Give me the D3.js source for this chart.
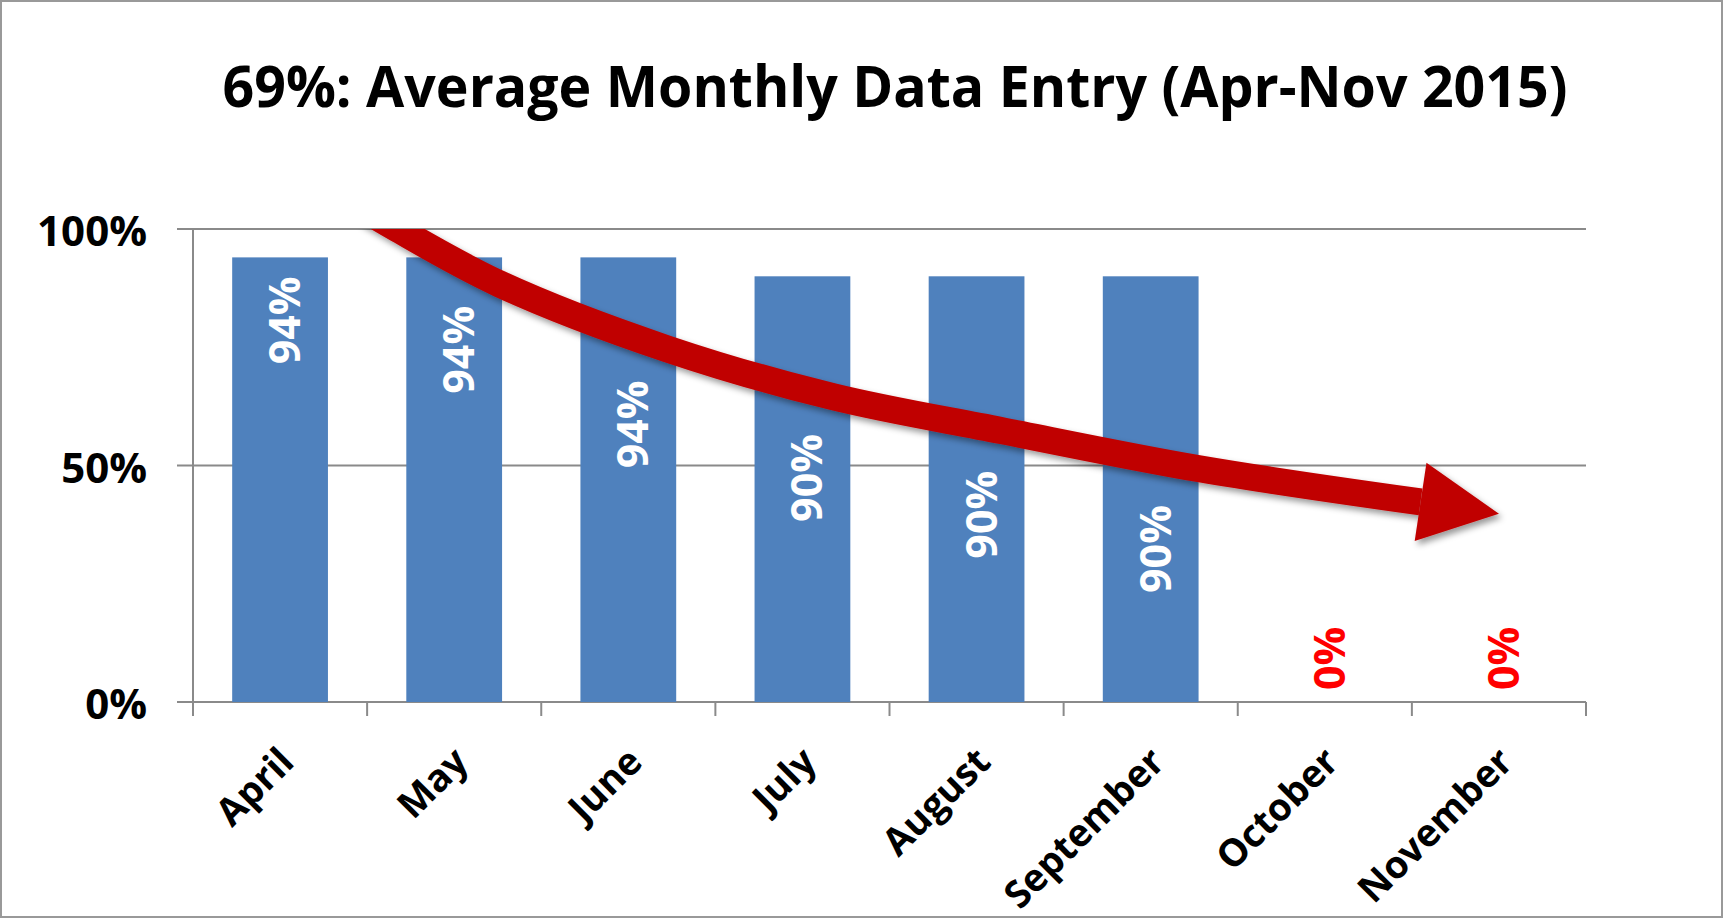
<!DOCTYPE html>
<html>
<head>
<meta charset="utf-8">
<title>Average Monthly Data Entry</title>
<script src="https://cdn.jsdelivr.net/npm/d3@7"></script>
<style>
  body { margin: 0; background: #fff; }
  svg text { font-family: 'Open Sans', 'Noto Sans', sans-serif; font-weight: 700; }
</style>
</head>
<body>
<svg id="chart"></svg>
<script>
// data
const months = ['April', 'May', 'June', 'July', 'August', 'September', 'October', 'November'];
const entryPct = [94, 94, 94, 90, 90, 90, 0, 0];
const yTickValues = [0, 50, 100];
const chartTitle = '69%: Average Monthly Data Entry (Apr-Nov 2015)';

// the hand drawn trend arrow, in data units: [month position (0 = left edge), percent]
const arrowPoints = [[0.99, 104], [1.16, 100.3], [1.76, 88.4], [2.72, 74.7], [3.68, 64.5], [4.64, 57.4], [5.78, 49.3], [7.05, 42.3]];
const arrowTip = [7.50, 39.8];

class BarChart {

    constructor(_config, _data) {
        this.config = {
            parentElement: _config.parentElement,
            containerWidth: _config.containerWidth || 1723,
            containerHeight: _config.containerHeight || 918,
            margin: {top: 229, right: 137, bottom: 216, left: 193}
        }
        this.data = _data;
        this.initVis();
    }

    initVis() {
        let vis = this;

        vis.width = vis.config.containerWidth - vis.config.margin.left - vis.config.margin.right;
        vis.height = vis.config.containerHeight - vis.config.margin.top - vis.config.margin.bottom;

        vis.svg = d3.select(vis.config.parentElement)
            .attr('width', vis.config.containerWidth)
            .attr('height', vis.config.containerHeight);

        // outer frame of the chart area
        vis.svg.append('rect')
            .attr('x', 1).attr('y', 1)
            .attr('width', vis.config.containerWidth - 2)
            .attr('height', vis.config.containerHeight - 2)
            .attr('fill', '#fff')
            .attr('stroke', '#999')
            .attr('stroke-width', 2);

        // drop shadow for the arrow
        let defs = vis.svg.append('defs');
        let f = defs.append('filter')
            .attr('id', 'shadow')
            .attr('x', '-10%').attr('y', '-10%')
            .attr('width', '120%').attr('height', '130%');
        f.append('feDropShadow')
            .attr('dx', 3).attr('dy', 4)
            .attr('stdDeviation', 3)
            .attr('flood-color', '#000')
            .attr('flood-opacity', 0.4);

        defs.append('clipPath')
            .attr('id', 'plot-clip')
            .append('rect')
            .attr('x', -50).attr('y', 0)
            .attr('width', vis.width + 100)
            .attr('height', vis.height + 50);

        // calibri is narrower than open sans, so the title gets pinned to its width
        vis.title = vis.svg.append('text')
            .attr('x', 895)
            .attr('y', 107)
            .attr('text-anchor', 'middle')
            .attr('textLength', 1345)
            .attr('lengthAdjust', 'spacingAndGlyphs')
            .style('font-size', '58px')
            .attr('fill', '#000')
            .text(chartTitle);

        vis.chart = vis.svg.append('g')
            .attr('transform', `translate(${vis.config.margin.left}, ${vis.config.margin.top})`);

        vis.xScale = d3.scaleBand()
            .domain(vis.data.map(d => d.month))
            .range([0, vis.width])
            .paddingInner(0.45)
            .paddingOuter(0.225);

        // continuous version of the month axis, for the arrow and boundary ticks
        vis.posScale = d3.scaleLinear()
            .domain([0, vis.data.length])
            .range([0, vis.width]);

        vis.yScale = d3.scaleLinear()
            .domain([0, 100])
            .range([vis.height, 0]);

        vis.gridG = vis.chart.append('g').attr('class', 'grid');
        vis.axisG = vis.chart.append('g').attr('class', 'axes');
        vis.barG = vis.chart.append('g').attr('class', 'bars');
        vis.labelG = vis.chart.append('g').attr('class', 'labels');
        vis.arrowG = vis.chart.append('g')
            .attr('clip-path', 'url(#plot-clip)')
            .append('g')
            .attr('filter', 'url(#shadow)');

        vis.renderVis();
    }

    renderVis() {
        let vis = this;
        const axisColor = '#8a8a8a';

        // horizontal gridlines, running a bit left of the axis as ticks
        vis.gridG.selectAll('line')
            .data(yTickValues)
            .join('line')
            .attr('x1', -16)
            .attr('x2', vis.width)
            .attr('y1', d => vis.yScale(d))
            .attr('y2', d => vis.yScale(d))
            .attr('stroke', axisColor)
            .attr('stroke-width', 2);

        // y axis line
        vis.axisG.append('line')
            .attr('x1', 0).attr('x2', 0)
            .attr('y1', vis.yScale(100)).attr('y2', vis.height)
            .attr('stroke', axisColor)
            .attr('stroke-width', 2);

        // category boundary ticks under the x axis
        vis.axisG.selectAll('.xtick')
            .data(d3.range(vis.data.length + 1))
            .join('line')
            .attr('class', 'xtick')
            .attr('x1', d => vis.posScale(d))
            .attr('x2', d => vis.posScale(d))
            .attr('y1', vis.height)
            .attr('y2', vis.height + 14)
            .attr('stroke', axisColor)
            .attr('stroke-width', 2);

        vis.yAxis = d3.axisLeft(vis.yScale)
            .tickValues(yTickValues)
            .tickFormat(d => d + '%')
            .tickSize(0)
            .tickPadding(46);

        vis.yAxisG = vis.axisG.append('g')
            .attr('class', 'axis y-axis')
            .call(vis.yAxis);
        vis.yAxisG.select('.domain').remove();
        vis.yAxisG.selectAll('text')
            .attr('dy', '0.4em')
            .attr('fill', '#000')
            .style('font-size', '42px');

        // rotated month names
        vis.axisG.selectAll('.xlabel')
            .data(vis.data)
            .join('text')
            .attr('class', 'xlabel')
            .attr('transform', d => `translate(${vis.xScale(d.month) + vis.xScale.bandwidth() / 2 + 16}, ${vis.height + 62}) rotate(-45)`)
            .attr('text-anchor', 'end')
            .attr('fill', '#000')
            .style('font-size', '38px')
            .text(d => d.month);

        vis.barG.selectAll('rect')
            .data(vis.data)
            .join('rect')
            .attr('x', d => vis.xScale(d.month))
            .attr('y', d => vis.yScale(d.value))
            .attr('width', vis.xScale.bandwidth())
            .attr('height', d => vis.height - vis.yScale(d.value))
            .attr('fill', '#4F81BD');

        // trend arrow
        vis.line = d3.line()
            .x(d => vis.posScale(d[0]))
            .y(d => vis.yScale(d[1]))
            .curve(d3.curveCatmullRom.alpha(0.5));

        vis.shaft = vis.arrowG.append('path')
            .attr('d', vis.line(arrowPoints))
            .attr('fill', 'none')
            .attr('stroke', '#C00000')
            .attr('stroke-width', 27);

        let last = arrowPoints[arrowPoints.length - 1];
        let px = vis.posScale(last[0]), py = vis.yScale(last[1]);
        let tx = vis.posScale(arrowTip[0]), ty = vis.yScale(arrowTip[1]);
        let len = Math.hypot(tx - px, ty - py);
        let nx = -(ty - py) / len, ny = (tx - px) / len;
        let half = 39.5;
        vis.arrowG.append('path')
            .attr('d', `M${px + nx * half},${py + ny * half}L${tx},${ty}L${px - nx * half},${py - ny * half}Z`)
            .attr('fill', '#C00000');

        // value labels sit in the bar, pushed down under the arrow where it crosses
        let node = vis.shaft.node();
        let total = node.getTotalLength();
        let arrowYAt = x => {
            let best = null;
            for (let s = 0; s <= total; s += 1) {
                let p = node.getPointAtLength(s);
                if (!best || Math.abs(p.x - x) < Math.abs(best.x - x)) best = p;
            }
            return Math.abs(best.x - x) < 3 ? best.y : null;
        };

        vis.labelG.selectAll('text')
            .data(vis.data)
            .join('text')
            .attr('transform', d => {
                let cx = vis.xScale(d.month) + vis.xScale.bandwidth() / 2 + 20;
                if (d.value === 0) return `translate(${cx}, ${vis.height - 12}) rotate(-90)`;
                let yEnd = vis.yScale(d.value) + 19;
                let ay = arrowYAt(cx - 20);
                if (ay !== null) yEnd = Math.max(yEnd, ay + 45);
                return `translate(${cx}, ${yEnd}) rotate(-90)`;
            })
            .attr('text-anchor', d => d.value === 0 ? 'start' : 'end')
            .attr('fill', d => d.value === 0 ? '#FF0000' : '#fff')
            .style('font-size', '43px')
            .text(d => d.value + '%');
    }
}

let chartData = months.map((m, i) => ({month: m, value: entryPct[i]}));
new BarChart({parentElement: '#chart', containerWidth: 1723, containerHeight: 918}, chartData);
</script>
</body>
</html>
